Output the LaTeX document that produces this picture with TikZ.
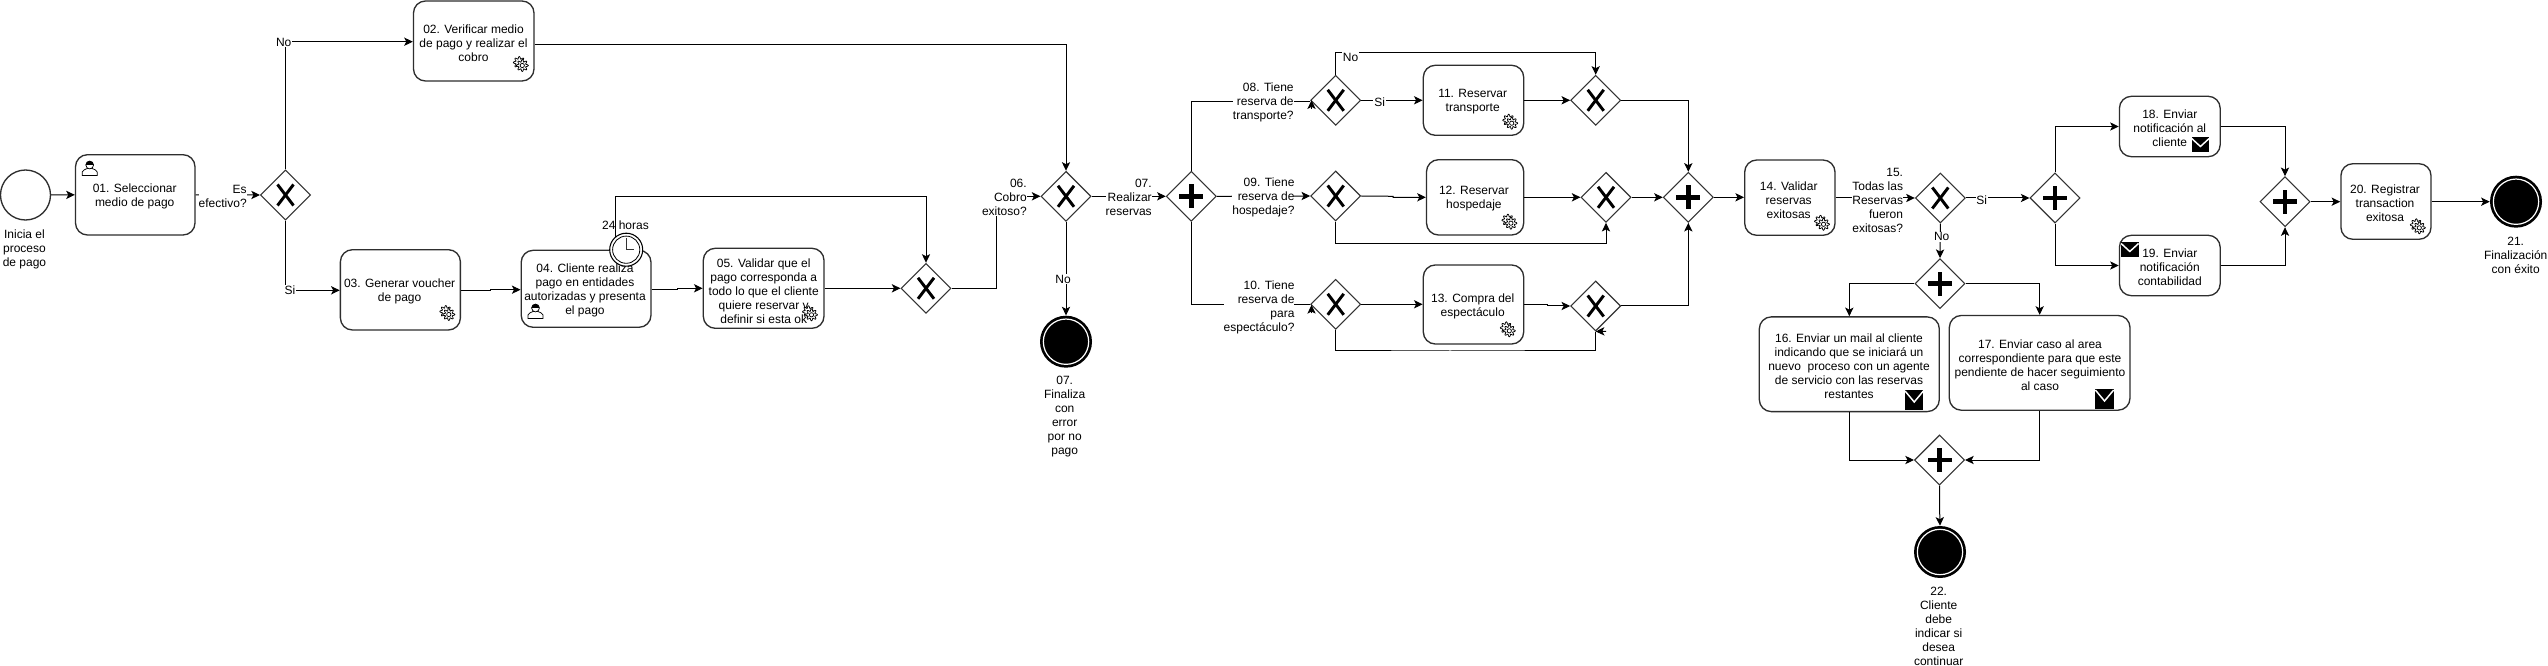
\documentclass[tikz,border=0pt]{standalone}
\usepackage{fontspec}
\setmainfont{Liberation Sans}
\usetikzlibrary{arrows.meta,shapes.geometric,calc}
\tikzset{
  taskbox/.style={draw=black!82,line width=1pt,fill=white,rounded corners=9pt,inner sep=0pt},
  tasktext/.style={align=center,inner sep=0pt,font=\fontsize{9}{10.5}\selectfont},
  lab/.style={align=center,inner sep=0pt,font=\fontsize{9}{10.5}\selectfont},
  labr/.style={align=right,anchor=east,inner sep=0pt,fill=white,font=\fontsize{9}{10.5}\selectfont},
  cond/.style={inner sep=0.6pt,fill=white,font=\fontsize{9}{10.5}\selectfont},
  gatebox/.style={diamond,aspect=1,draw=black!80,line width=.8pt,fill=white,minimum width=37.5pt,minimum height=37.5pt,inner sep=0pt},
  flow/.style={draw=black,line width=.75pt,-{Stealth[length=6.5pt,width=6.2pt,inset=1.6pt]}},
  plain/.style={draw=black,line width=.75pt},
  xmark/.style={line width=2.2pt,black},
  gearline/.style={line width=.55pt,draw=black,fill=white},
  endbig/.style={circle,fill=black,minimum size=39pt,inner sep=0pt},
}
\newcommand\task[8]{%
  \node[taskbox,minimum width={(#4-#2)*0.75pt},minimum height={(#5-#3)*0.75pt}] (#1) at ({(#2+#4)/2},{(#3+#5)/2}) {};
  \node[tasktext] (#1t) at (#6,#7) {#8};}
\newcommand\gatex[3]{%
  \node[gatebox] (#1) at (#2,#3) {};
  \draw[xmark] ($(#1.center)+(-8,-10.5)$) -- ($(#1.center)+(8,10.5)$);
  \draw[xmark] ($(#1.center)+(-8,10.5)$) -- ($(#1.center)+(8,-10.5)$);}
\newcommand\gatep[3]{%
  \node[gatebox] (#1) at (#2,#3) {};
  \fill[black] ($(#1.center)+(-12,-2.4)$) rectangle ($(#1.center)+(12,2.4)$);
  \fill[black] ($(#1.center)+(-2.4,-12)$) rectangle ($(#1.center)+(2.4,12)$);}
\newcommand\stopevent[3]{%
  \node[endbig] (#1) at (#2,#3) {};
  \draw[white,line width=.9pt] (#1.center) circle (17pt);}
\newcommand\gearicon[2]{\begin{scope}[shift={(#1,#2)}]
  \draw[gearline] plot[samples at={0,6,...,360},variable=\a] ({-1.5+(4.8+1.2*cos(8*\a))*cos(\a)},{-1.5+(4.8+1.2*cos(8*\a))*sin(\a)}) -- cycle;
  \draw[gearline] plot[samples at={0,6,...,360},variable=\a] ({1.5+(4.8+1.2*cos(8*\a))*cos(\a)},{1.5+(4.8+1.2*cos(8*\a))*sin(\a)}) -- cycle;
  \draw[line width=.55pt] (1.5,1.5) circle (1.6pt);
\end{scope}}
\newcommand\usericon[2]{\begin{scope}[shift={(#1,#2)}]
  \draw[line width=.55pt,fill=white] (-7.5,7.5) -- (-7.5,4) .. controls (-7.5,2) and (-4,1.5) .. (-2.5,0.5) -- (2.5,0.5) .. controls (4,1.5) and (7.5,2) .. (7.5,4) -- (7.5,7.5) -- cycle;
  \draw[line width=.55pt,fill=white] (0,-3) circle (2.9pt);
  \fill[black] (-3.9,-3.2) arc[start angle=180,end angle=0,radius=2.9pt] -- cycle;
\end{scope}}
\newcommand\mailA[4]{%
  \fill[black] ({#1-#3/2},{#2-#4/2}) rectangle ({#1+#3/2},{#2+#4/2});
  \fill[white] ({#1-#3/2+.6},{#2-#4/2-.2}) -- ({#1+#3/2-.6},{#2-#4/2-.2}) -- (#1,{#2+#4/2-#4*.43}) -- cycle;}
\newcommand\mailB[4]{%
  \fill[black] ({#1-#3/2},{#2-#4/2}) rectangle ({#1+#3/2},{#2+#4/2});
  \draw[white,line width=1.1pt] ({#1-#3/2},{#2-#4/2+1}) -- (#1,{#2+#4*.1}) -- ({#1+#3/2},{#2-#4/2+1});}
\begin{document}
\begin{tikzpicture}[x=0.75pt,y=-0.75pt]
\useasboundingbox[fill=white] (0,0) rectangle (2548,666);
% events
\node[circle,draw=black!82,line width=1pt,fill=white,minimum size=37.5pt,inner sep=0pt] (s0) at (25.5,195) {};
\stopevent{e7}{1066}{341.7}
\stopevent{e21}{2516}{201.7}
\stopevent{e22}{1940}{552}
% tasks
\task{t01}{75.5}{154.7}{195}{235}{134.7}{196}{01. Seleccionar\\medio de pago}
\task{t02}{413.5}{1}{534}{81}{473.5}{43}{02. Verificar medio\\de pago y realizar el\\cobro}
\task{t03}{340.4}{249.7}{460.4}{330}{399.6}{291}{03. Generar voucher\\de pago}
\task{t04}{521.2}{250.3}{651}{327.3}{585}{290.7}{04. Cliente realiza\\pago en entidades\\autorizadas y presenta\\el pago}
\task{t05}{703.3}{248.3}{824}{328.3}{763.7}{291}{05. Validar que el\\pago corresponda a\\todo lo que el cliente\\quiere reservar y\\definir si esta ok}
\task{t11}{1423.3}{65.3}{1523.7}{135.3}{1472.7}{102}{11. Reservar\\transporte}
\task{t12}{1426.5}{159.7}{1523.7}{235}{1473.9}{199}{12. Reservar\\hospedaje}
\task{t13}{1423.3}{265}{1523.7}{344}{1472.7}{306}{13. Compra del\\espectáculo}
\task{t14}{1744.7}{160}{1835}{235.3}{1788.7}{199.8}{14. Validar\\reservas\\exitosas}
\task{t16}{1759.3}{316.9}{1939.3}{411.6}{1849}{366}{16. Enviar un mail al cliente\\indicando que se iniciará un\\nuevo~ proceso con un agente\\de servicio con las reservas\\restantes}
\task{t17}{1949.3}{315.5}{2130}{410.2}{2040}{365}{17. Enviar caso al area\\correspondiente para que este\\pendiente de hacer seguimiento\\al caso}
\task{t18}{2119.4}{96.3}{2220.2}{156.7}{2169.8}{128}{18. Enviar\\notificación al\\cliente\hspace{24pt}}
\task{t19}{2119.4}{235.3}{2220.2}{295.7}{2169.8}{267}{19. Enviar\\notificación\\contabilidad}
\task{t20}{2340.9}{163.7}{2431}{239.3}{2385}{203}{20. Registrar\\transaction\\exitosa}
% gateways
\gatex{g1}{285.5}{195}
\gatex{g2}{926}{288.3}
\gatex{g6}{1066}{196.3}
\gatep{p7}{1191.3}{196.3}
\gatex{g8}{1335.7}{100.3}
\gatex{g9}{1335.7}{196}
\gatex{g10}{1335.7}{304.3}
\gatex{j11}{1595.7}{100.3}
\gatex{j12}{1606}{197.3}
\gatex{j13}{1595.7}{306}
\gatep{p14}{1688.3}{197.3}
\gatex{g15}{1940.3}{198}
\gatep{ps}{2055}{198}
\gatep{pj}{2285}{201.7}
\gatep{pn}{1940}{283.6}
\gatep{pe}{1939.5}{460}
% clock
\node[circle,draw=black,line width=.8pt,fill=white,minimum size=24.75pt,inner sep=0pt] (clk) at (626.2,249.7) {};
\draw[black,line width=.6pt] (clk.center) circle (10.2pt);
\draw[black!80,line width=.7pt] (626.6,238.5) -- (626.6,249.3) -- (633.5,249.3);
% connectors
\draw[flow] (s0.east) -- (t01.west);
\draw[flow] (t01.east) -- (g1.west);
\draw[flow] (g1.north) |- (t02.west |- 0,41.7);
\draw[flow] (g1.south) |- (t03.west |- 0,290.3);
\draw[flow] (t02.east |- 0,45) -| (g6.north);
\draw[flow] (t03.east |- 0,290.3) -- (490,290.3) -- (490,289.7) -- (t04.west |- 0,289.7);
\draw[flow] (t04.east |- 0,289.3) -- (677.5,289.3) -- (677.5,288.3) -- (t05.west |- 0,288.3);
\draw[flow] (t05.east |- 0,288.3) -- (g2.west);
\draw[flow] (clk.130) |- (800,196.7) -| (g2.north);
\draw[flow] (g2.east) -- (996.3,288.3) |- (g6.west);
\draw[flow] (g6.east) -- (p7.west);
\draw[flow] (g6.south) -- (e7.north);
% parallel branches
\draw[plain] (p7.north) |- (g8.west |- 0,101.3);
\coordinate (a8) at (1311.5,109);
\draw[flow] (a8) -- (1311.5,100.3);
\draw[flow] (p7.east) -- (g9.west);
\draw[plain] (p7.south) |- (g10.west |- 0,305);
\coordinate (a10) at (1311.5,313.5);
\draw[flow] (a10) -- (1311.5,305);
\draw[flow] (g8.north) |- (1500,52.3) -| (j11.north);
\draw[flow] (g8.east) -- (t11.west |- g8.east);
\draw[flow] (t11.east |- j11.west) -- (j11.west);
\draw[flow] (j11.east) -| (p14.north);
\draw[flow] (g9.east) -- (1393,196.3) -- (1393,197.3) -- (t12.west |- 0,197.3);
\draw[flow] (t12.east |- j12.west) -- (j12.west);
\draw[flow] (g9.south) |- (1450,243.3) -| (j12.south);
\draw[flow] (j12.east) -- (p14.west);
\draw[flow] (g10.east) -- (t13.west |- g10.east);
\draw[flow] (t13.east |- 0,304.3) -- (1547.3,304.3) -- (1547.3,306) -- (j13.west);
\draw[plain] (g10.south) |- (1450,351) -| (j13.south);
\coordinate (a13) at (1606,331.3);
\draw[flow] (a13) -- (j13.south);
\draw[flow] (j13.east) -| (p14.south);
\draw[flow] (p14.east) -- (t14.west |- p14.east);
\draw[flow] (t14.east |- g15.west) -- (g15.west);
\draw[flow] (g15.east) -- (ps.west);
\draw[flow] (g15.south) -- (pn.north);
\draw[flow] (ps.north) |- (t18.west);
\draw[flow] (ps.south) |- (t19.west);
\draw[flow] (t18.east) -| (pj.north);
\draw[flow] (t19.east) -| (pj.south);
\draw[flow] (pj.east) -- (t20.west |- pj.east);
\draw[flow] (t20.east |- e21.west) -- (e21.west);
\draw[flow] (pn.west) -| (t16.north);
\draw[flow] (pn.east) -| (t17.north);
\draw[flow] (t16.south) |- (pe.west);
\draw[flow] (t17.south) |- (pe.east);
\draw[flow] (pe.south) -- (1939.5,505) -- (e22.north);
% labels
\node[lab] (l0) at (24.5,249) {Inicia el\\proceso\\de pago};
\node[labr] (l1) at (247,196) {Es\\efectivo?};
\node[cond] (c1) at (283.7,42.3) {No};
\node[cond] (c2) at (290,290.7) {Si};
\node[lab] (l24) at (625.5,225.7) {24 horas};
\node[labr] (l6) at (1027,197.7) {06.\\Cobro\\exitoso?};
\node[labr] (l7) at (1152,197.7) {07.\\Realizar\\reservas};
\node[cond] (c3) at (1063,279) {No};
\node[lab] (l7e) at (1064.7,417) {07.\\Finaliza\\con\\error\\por no\\pago};
\node[labr] (l8) at (1293.9,102) {08. Tiene\\reserva de\\transporte?};
\node[labr] (l9) at (1294.7,197.7) {09. Tiene\\reserva de\\hospedaje?};
\node[labr] (l10) at (1294.7,307) {10. Tiene\\reserva de\\para\\espectáculo?};
\node[cond] (c4) at (1350.6,57) {No};
\node[cond] (c5) at (1379.6,102.7) {Si};
\node[labr] (l15) at (1903.3,200) {15.\\Todas las\\Reservas\\fueron\\exitosas?};
\node[cond] (c6) at (1981.7,199.8) {Si};
\node[cond] (c7) at (1941.7,236.7) {No};
\node[lab] (l21) at (2515.7,255.3) {21.\\Finalización\\con éxito};
\node[lab] (l22) at (1938.7,626) {22.\\Cliente\\debe\\indicar si\\desea\\continuar};
% icons
\usericon{89.7}{168}
\usericon{535.5}{311}
\gearicon{520.8}{64}
\gearicon{447.3}{313}
\gearicon{810}{313.3}
\gearicon{1510.2}{121.7}
\gearicon{1509.4}{221.7}
\gearicon{1507.8}{329.3}
\gearicon{1822}{222.8}
\gearicon{2417.8}{226.3}
\mailB{1914.2}{400}{18.3}{20}
\mailB{2104.5}{399}{18.3}{20}
\mailB{2200.4}{145}{17.4}{15}
\mailB{2129.8}{250}{17.4}{15}
\end{tikzpicture}
\end{document}
